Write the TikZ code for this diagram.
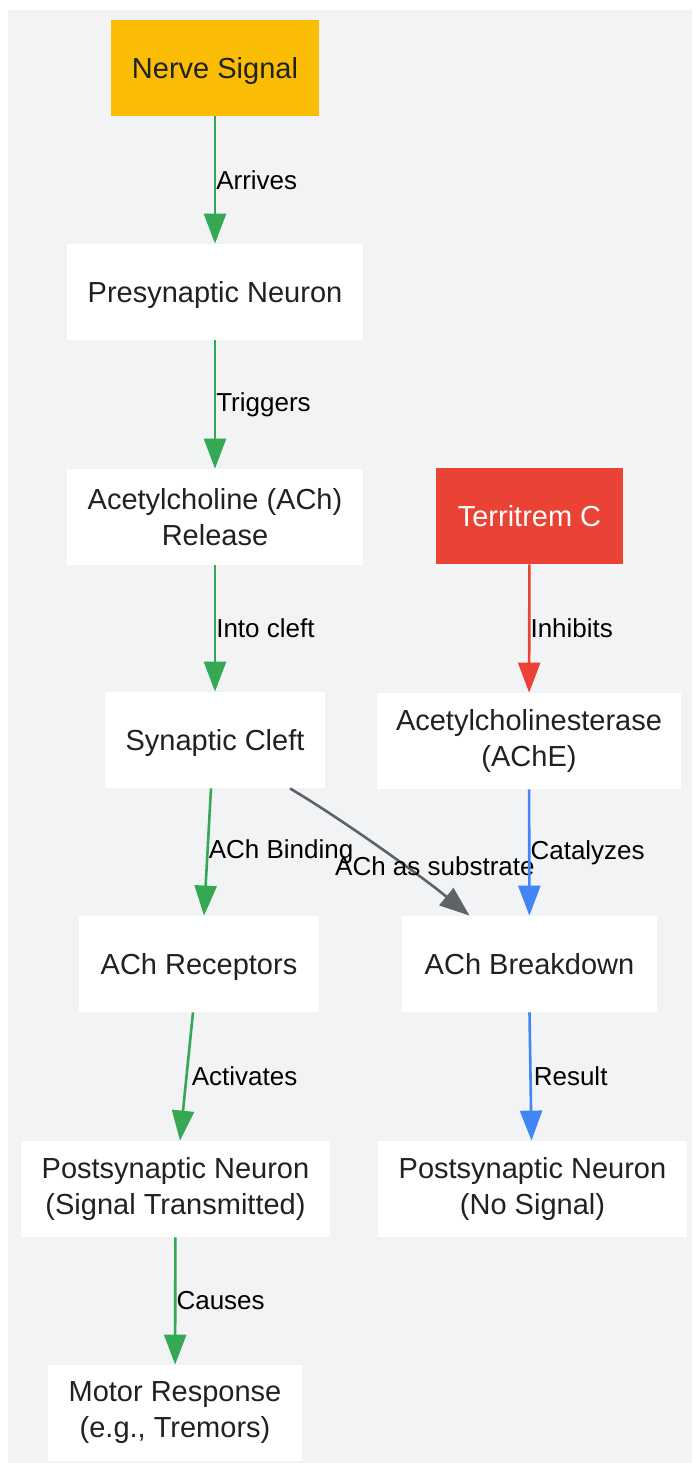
\documentclass[tikz,border=0pt]{standalone}
\usepackage{fontspec}
\setmainfont{Liberation Sans}
\usetikzlibrary{arrows.meta}
\definecolor{bgGrey}{HTML}{F1F3F4}
\definecolor{sigYellow}{HTML}{FBBC04}
\definecolor{toxRed}{HTML}{EA4335}
\definecolor{okGreen}{HTML}{34A853}
\definecolor{enzBlue}{HTML}{4285F4}
\definecolor{subGrey}{HTML}{5F6368}
\definecolor{txtDark}{HTML}{202124}

\begin{document}
\begin{tikzpicture}[x=0.5pt, y=-0.5pt]
	\tikzstyle{every node} = [inner sep=0pt, align=center, font=\fontsize{14.5}{18}\selectfont, text=txtDark]
	\tikzstyle{box} = [fill=white, minimum height=48pt]
	\tikzstyle{oneline} = [text height=10.5pt, text depth=0pt]
	\tikzstyle{lbl} = [font=\fontsize{13}{15}\selectfont, text=black, anchor=west]
	\tikzstyle{link} = [line width=1.3pt, -{Triangle[length=15pt,width=11pt]}]
	\useasboundingbox (0,0) rectangle (692,1463);
	\fill[bgGrey] (8,10) rectangle (692,1463);
	\node[box, oneline, fill=sigYellow, minimum width=104pt] (signal) at (215,68) {Nerve Signal};
	\node[box, oneline, minimum width=148pt] (pre) at (215,292) {Presynaptic Neuron};
	\node[box, minimum width=148pt] (rel) at (215,517) {Acetylcholine (ACh)\\Release};
	\node[box, oneline, fill=toxRed, text=white, minimum width=93.5pt] (terr) at (529.5,516) {Territrem C};
	\node[box, oneline, minimum width=110pt] (cleft) at (215,740) {Synaptic Cleft};
	\node[box, minimum width=152pt] (ache) at (529,741) {Acetylcholinesterase\\(AChE)};
	\node[box, oneline, minimum width=120pt] (rec) at (199,964) {ACh Receptors};
	\node[box, oneline, minimum width=127.5pt] (brk) at (529.5,964) {ACh Breakdown};
	\node[box, minimum width=154.5pt] (postT) at (175.5,1189) {Postsynaptic Neuron\\(Signal Transmitted)};
	\node[box, minimum width=154.5pt] (postN) at (532.5,1189) {Postsynaptic Neuron\\(No Signal)};
	\node[box, minimum width=127pt] (motor) at (175,1413) {Motor Response\\(e.g., Tremors)};
	\draw[link, okGreen] (signal) -- (pre) node[lbl, midway] {Arrives};
	\draw[link, okGreen] (pre) -- (rel) node[lbl, midway] {Triggers};
	\draw[link, okGreen] (rel) -- (cleft) node[lbl, midway] {Into cleft};
	\draw[link, toxRed] (terr) -- (ache) node[lbl, midway] {Inhibits};
	\draw[link, okGreen] ([xshift=-2pt]cleft.south) -- ([xshift=2.5pt]rec.north) node[lbl, midway] {ACh Binding};
	\draw[link, subGrey] ([xshift=37.5pt]cleft.south) .. controls (340,818) and (420,875) .. ([xshift=-30pt]brk.north)
		node[lbl, anchor=center, midway, xshift=27.5pt, yshift=-9pt] {ACh as substrate};
	\draw[link, enzBlue] (ache) -- (brk) node[lbl, midway] {Catalyzes};
	\draw[link, okGreen] ([xshift=-3pt]rec.south) -- ([xshift=2.25pt]postT.north) node[lbl, midway, xshift=2pt] {Activates};
	\draw[link, enzBlue] (brk.south) -- ([xshift=-0.5pt]postN.north) node[lbl, midway, xshift=1pt] {Result};
	\draw[link, okGreen] (postT) -- (motor) node[lbl, midway] {Causes};
\end{tikzpicture}
\end{document}
